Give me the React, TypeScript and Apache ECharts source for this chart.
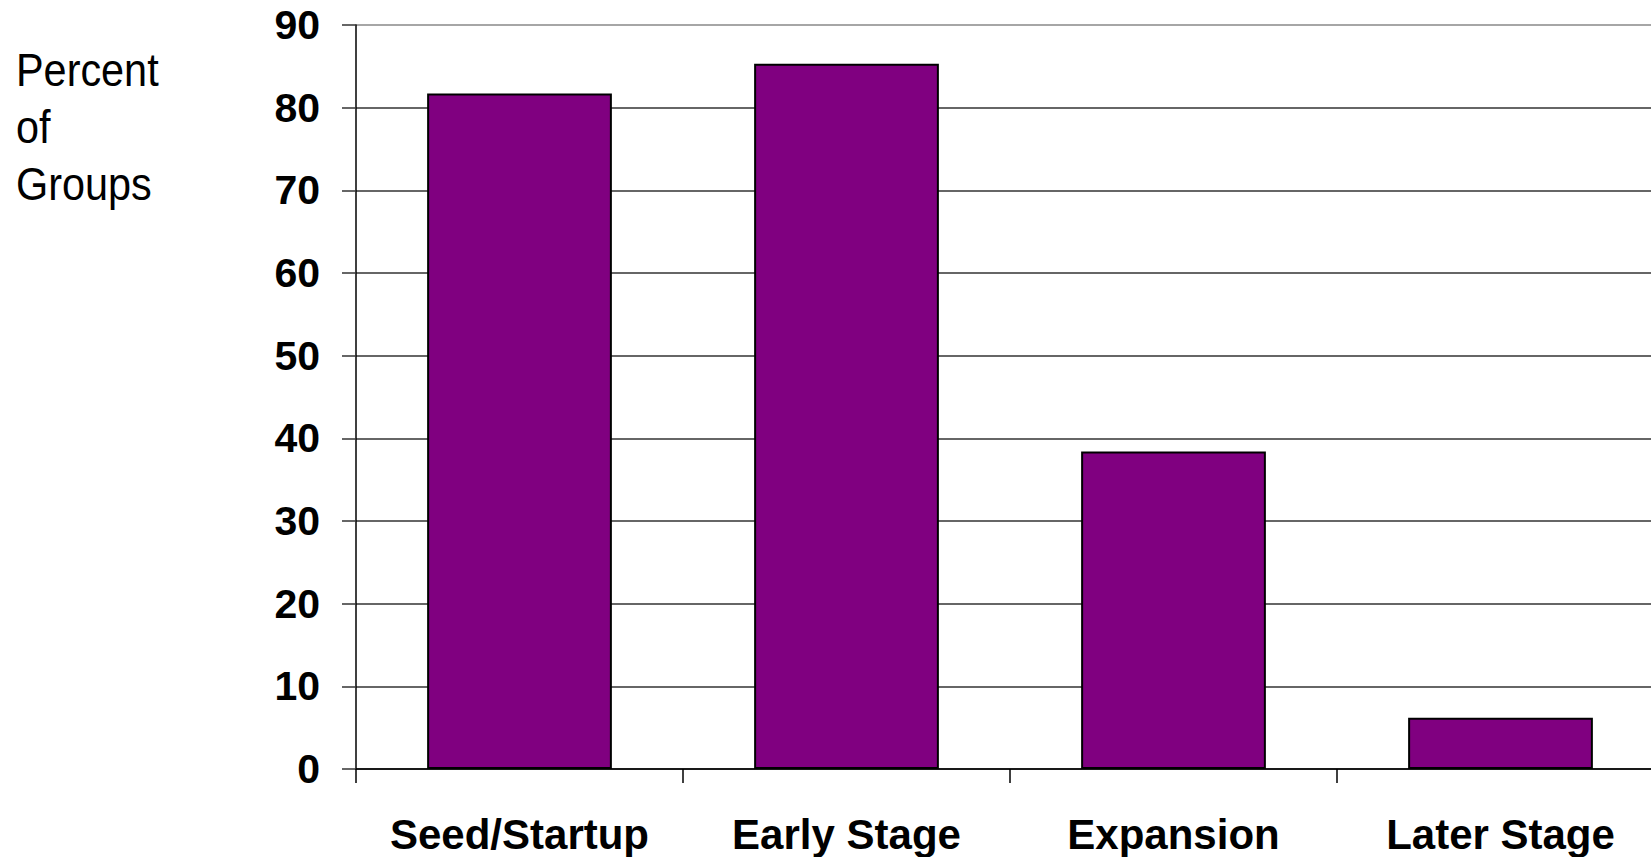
import React, { useEffect, useRef } from "react";
import * as echarts from "echarts";

const categories = ["Seed/Startup", "Early Stage", "Expansion", "Later Stage"];
const percentOfGroups = [81.7, 85.3, 38.4, 6.2];
const yTicks = { min: 0, max: 90, interval: 10 };
const axisTitleLines = ["Percent", "of", "Groups"];

export default function App() {
  const ref = useRef<HTMLDivElement>(null);
  useEffect(() => {
    document.body.style.margin = "0";
    document.body.style.overflow = "hidden";
    const chart = echarts.init(ref.current!, undefined, { renderer: "svg" });
    const gridColors = Array.from({ length: 10 }, (_, i) => (i === 9 ? "#888888" : "#333333"));
    chart.setOption({
      animation: false,
      backgroundColor: "#ffffff",
      textStyle: { fontFamily: "Liberation Sans, Arial, sans-serif" },
      grid: { left: 356, top: 25, width: 1308, height: 744 },
      graphic: [
        {
          type: "text",
          left: 16,
          top: 41,
          scaleX: 0.9,
          style: {
            text: axisTitleLines.join("\n"),
            font: "46px 'Liberation Sans', Arial, sans-serif",
            fill: "#000",
            lineHeight: 57,
          },
        },
      ],
      xAxis: {
        type: "category",
        data: categories,
        boundaryGap: true,
        axisLine: { show: true, lineStyle: { color: "#000", width: 1.5 } },
        axisTick: { show: true, interval: 0, length: 14, lineStyle: { color: "#000", width: 1.5 } },
        axisLabel: {
          interval: 0,
          hideOverlap: false,
          color: "#000",
          fontWeight: "bold",
          fontSize: 42,
          margin: 44,
          fontFamily: "Liberation Sans, Arial, sans-serif",
        },
        splitLine: { show: false },
      },
      yAxis: {
        type: "value",
        min: yTicks.min,
        max: yTicks.max,
        interval: yTicks.interval,
        axisLine: { show: true, lineStyle: { color: "#000", width: 1.5 } },
        axisTick: { show: true, length: 14, lineStyle: { color: "#333", width: 1.5 } },
        axisLabel: {
          color: "#000",
          fontWeight: "bold",
          fontSize: 41,
          margin: 36,
          fontFamily: "Liberation Sans, Arial, sans-serif",
        },
        splitLine: { show: true, lineStyle: { color: gridColors, width: 1.5 } },
      },
      series: [
        {
          type: "bar",
          data: percentOfGroups,
          barCategoryGap: "43.5%",
          itemStyle: { color: "#800080", borderColor: "#000", borderWidth: 2 },
        },
      ],
    });
    return () => chart.dispose();
  }, []);
  return <div ref={ref} style={{ width: 1720, height: 857 }} />;
}
